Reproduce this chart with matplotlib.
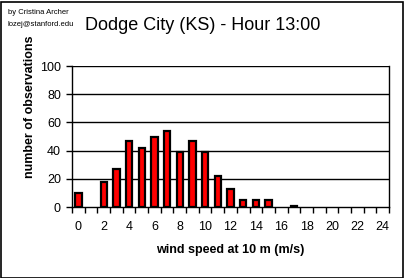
import matplotlib
matplotlib.use("Agg")
import matplotlib.pyplot as plt
from matplotlib.patches import Rectangle
import numpy as np

plt.rcParams['font.family'] = ['Liberation Sans', 'DejaVu Sans']

speeds = list(range(0, 25))
counts = [10, 0, 18, 27, 47, 42, 50, 54, 39, 47, 39, 22, 13, 5, 5, 5, 0, 1,
          0, 0, 0, 0, 0, 0, 0]
x_labels = [str(s) if s % 2 == 0 else "" for s in speeds]
y_ticks = [0, 20, 40, 60, 80, 100]

W, H = 405, 278
fig = plt.figure(figsize=(W / 100, H / 100), dpi=100)
fig.patch.set_facecolor('white')
fig.patches.append(Rectangle((0.5 / W, 0.5 / H), 1 - 2.5 / W, 1 - 2.5 / H,
                             transform=fig.transFigure, fill=False,
                             edgecolor='black', linewidth=1.2))

ax = fig.add_axes([72 / W, (H - 207) / H, (389 - 72) / W, (207 - 66) / H])
ax.set_xlim(-0.5, 24.5)
ax.set_ylim(0, 100)

for yv in y_ticks[1:]:
    ax.axhline(yv, color='black', linewidth=1.0, zorder=1)

lws = [1.6 if c > 0 else 0 for c in counts]
ax.bar(speeds, counts, width=0.5, color='#ff0000', edgecolor='black',
       linewidth=lws, zorder=3)

ax.set_xticks(speeds)
ax.set_xticklabels(x_labels, fontsize=9)
ax.set_xticks(np.arange(-0.5, 25, 1), minor=True)
ax.tick_params(axis='x', which='major', length=0, pad=10)
ax.tick_params(axis='x', which='minor', length=4, width=1, direction='out', color='black')
ax.set_yticks(y_ticks)
ax.set_yticklabels([str(v) for v in y_ticks], fontsize=9)
ax.tick_params(axis='y', length=4, width=1, direction='out', pad=4)

for s in ['left', 'bottom', 'right']:
    ax.spines[s].set_color('black')
    ax.spines[s].set_linewidth(1.0)
ax.spines['top'].set_visible(False)

fig.text(203 / W, 1 - 25 / H, "Dodge City (KS) - Hour 13:00", ha='center', va='center',
         fontsize=13)
fig.text(8 / W, 1 - 12 / H, "by Cristina Archer", ha='left', va='center', fontsize=5.5)
fig.text(8 / W, 1 - 24 / H, "lozej@stanford.edu", ha='left', va='center', fontsize=5.5)
fig.text(30 / W, 1 - 107 / H, "number of observations", rotation=90, ha='center',
         va='center', fontsize=9, fontweight='bold')
fig.text(230 / W, 1 - 250 / H, "wind speed at 10 m (m/s)", ha='center', va='center',
         fontsize=9, fontweight='bold')

fig.savefig("out.png", dpi=100, facecolor='white')
